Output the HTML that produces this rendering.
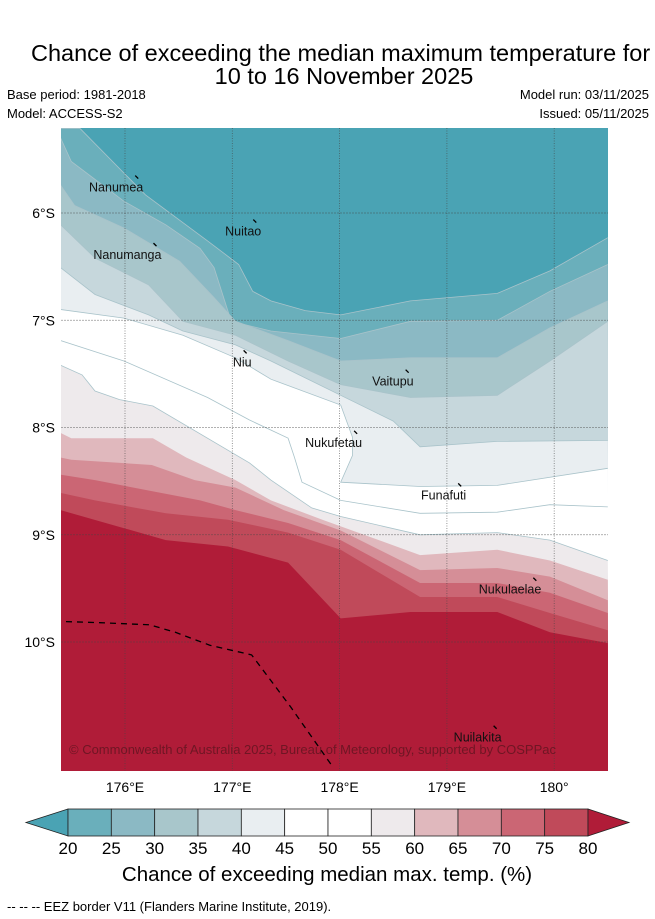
<!DOCTYPE html>
<html><head><meta charset="utf-8">
<style>
html,body{margin:0;padding:0;background:#fff;}
body{width:655px;height:919px;overflow:hidden;position:relative;font-family:"Liberation Sans",sans-serif;}
.t{position:absolute;white-space:nowrap;color:#000;}
</style></head>
<body>
<div class="t" style="left:31px;top:40px;font-size:23.5px;">Chance of exceeding the median maximum temperature for</div>
<div class="t" style="left:0;width:688px;text-align:center;top:63px;font-size:23.5px;">10 to 16 November 2025</div>
<div class="t" style="left:7px;top:87px;font-size:13px;">Base period: 1981-2018</div>
<div class="t" style="left:7px;top:106px;font-size:13px;">Model: ACCESS-S2</div>
<div class="t" style="right:6px;top:87px;font-size:13px;">Model run: 03/11/2025</div>
<div class="t" style="right:6px;top:106px;font-size:13px;">Issued: 05/11/2025</div>
<svg id="map" width="655" height="919" style="position:absolute;left:0;top:0;" xmlns="http://www.w3.org/2000/svg"></svg>
<script>
const levels=[20,25,30,35,40,45,50,55,60,65,70,75,80];
const fillColors=["#6aafbb","#8bb9c4","#a8c6cb","#c6d7dc","#e9eef1","#ffffff","#ffffff","#eeeaec","#e0b8bd","#d58e97","#cb6674","#c04a5a","#b01c38"];
const belowColor="#4aa3b4";
const L20=[[175.4,5.21],[175.58,5.21],[176.19,5.83],[176.77,6.26],[177.06,6.48],[177.19,6.73],[177.36,6.82],[177.68,6.91],[178.01,6.95],[178.66,6.82],[179.47,6.75],[179.96,6.54],[180.5,6.23]];
const L25=[[175.4,5.30],[175.50,5.52],[175.99,5.89],[176.38,6.11],[176.70,6.33],[176.83,6.51],[176.99,7.01],[177.36,7.10],[178.01,7.17],[178.66,7.01],[179.47,7.00],[179.96,6.73],[180.5,6.48]];
const L30=[[175.4,5.74],[175.53,5.93],[175.99,6.14],[176.51,6.45],[176.83,6.79],[177.03,7.01],[177.52,7.19],[178.01,7.38],[178.66,7.35],[179.47,7.35],[179.96,7.07],[180.5,6.82]];
const L35=[[175.4,6.11],[175.72,6.42],[176.22,6.67],[176.54,7.01],[177.03,7.14],[177.52,7.38],[178.01,7.60],[178.66,7.72],[179.47,7.70],[179.96,7.38],[180.5,7.01]];
const L40=[[175.4,6.51],[175.72,6.76],[176.22,6.95],[176.54,7.10],[177.03,7.23],[177.36,7.38],[178.01,7.70],[178.50,7.94],[178.75,8.18],[179.47,8.13],[180.5,8.12]];
const L45=[[175.4,6.90],[175.99,6.98],[176.54,7.14],[177.03,7.35],[177.36,7.55],[178.01,7.79],[178.12,8.09],[178.12,8.26],[178.01,8.51],[178.75,8.55],[179.47,8.54],[180.5,8.38]];
const L50=[[175.4,7.19],[175.99,7.38],[176.77,7.72],[177.16,7.93],[177.52,8.10],[177.58,8.28],[177.65,8.51],[178.01,8.68],[178.75,8.80],[179.47,8.79],[179.96,8.72],[180.5,8.74]];
const L55=[[175.4,7.42],[175.60,7.51],[175.72,7.66],[175.95,7.74],[176.26,7.80],[177.16,8.33],[177.36,8.49],[177.74,8.75],[178.01,8.83],[178.75,9.00],[179.47,8.98],[179.96,9.05],[180.5,9.24]];
const L60=[[175.4,8.05],[175.50,8.10],[176.26,8.10],[176.57,8.28],[177.03,8.49],[177.36,8.68],[177.84,8.86],[178.75,9.19],[179.47,9.14],[179.96,9.24],[180.5,9.42]];
const L65=[[175.4,8.28],[175.50,8.30],[176.25,8.35],[176.65,8.49],[177.03,8.56],[177.48,8.77],[178.01,8.96],[178.75,9.33],[179.47,9.31],[179.96,9.39],[180.5,9.61]];
const L70=[[175.4,8.44],[175.72,8.49],[176.28,8.60],[176.70,8.68],[177.03,8.77],[177.52,8.89],[178.01,9.05],[178.75,9.45],[179.47,9.45],[179.96,9.54],[180.5,9.73]];
const L75=[[175.4,8.61],[175.72,8.68],[176.38,8.80],[176.96,8.86],[177.52,8.98],[178.01,9.14],[178.75,9.58],[179.47,9.58],[179.96,9.73],[180.5,9.89]];
const L80=[[175.4,8.77],[176.38,9.05],[176.96,9.11],[177.52,9.26],[178.01,9.78],[178.66,9.72],[179.47,9.72],[179.96,9.91],[180.5,10.01]];
const contourLines=[L20,L25,L30,L35,L40,L45,L50,L55,L60,L65,L70,L75,L80];
const eezBorder=[[175.45,9.81],[175.77,9.82],[176.23,9.84],[176.47,9.91],[176.79,10.03],[177.18,10.12],[177.54,10.60],[177.94,11.17]];
const lonTicks=[176,177,178,179,180];
const lonLabels=["176°E","177°E","178°E","179°E","180°"];
const latTicks=[6,7,8,9,10];
const latLabels=["6°S","7°S","8°S","9°S","10°S"];
const islandNames=["Nanumea","Nuitao","Nanumanga","Niu","Vaitupu","Nukufetau","Funafuti","Nukulaelae","Nuilakita"];
const islandLon=[176.17,177.27,176.34,177.18,178.69,178.21,179.18,179.88,179.51];
const islandLat=[5.80,6.21,6.43,7.43,7.61,8.18,8.67,9.55,10.93];
const cbTicks=[20,25,30,35,40,45,50,55,60,65,70,75,80];

const NS="http://www.w3.org/2000/svg";
const svg=document.getElementById('map');
const X0=61,X1=608,Y0=128,Y1=771;
const xs=lon=>125+(lon-176)*107.3;
const ys=lat=>213+(lat-6)*107.25;
function mk(tag,attrs,parent){const e=document.createElementNS(NS,tag);for(const k in attrs)e.setAttribute(k,attrs[k]);(parent||svg).appendChild(e);return e;}
const defs=mk('defs',{});
const cp=mk('clipPath',{id:'clip'},defs);
mk('rect',{x:X0,y:Y0,width:X1-X0,height:Y1-Y0},cp);
const g=mk('g',{'clip-path':'url(#clip)'});


const bg=mk('rect',{x:X0,y:Y0,width:X1-X0,height:Y1-Y0,fill:belowColor},g);


contourLines.forEach((line,i)=>{
  const pts=line.map(p=>xs(p[0]).toFixed(1)+','+ys(p[1]).toFixed(1));
  const poly=mk('polygon',{points:pts.join(' ')+' '+(X1+2)+','+(Y1+2)+' '+(X0-2)+','+(Y1+2),fill:fillColors[i]},g);
  
  
  const pl=mk('polyline',{points:pts.join(' '),fill:'none',stroke:levels[i]<=55?'#a9c3ca':'none','stroke-width':0.8},g);
  
  
});
lonTicks.forEach((lon,i)=>{
  const l=mk('line',{x1:xs(lon),x2:xs(lon),y1:Y0,y2:Y1,stroke:'#444','stroke-width':0.8,'stroke-dasharray':'1,1.5',opacity:0.7},g);
  
  
  const t=mk('text',{x:xs(lon),y:792,'text-anchor':'middle','font-size':14,'font-family':'Liberation Sans, sans-serif'});
  t.textContent=lonLabels[i];
  
  
});
latTicks.forEach((lat,i)=>{
  const l=mk('line',{x1:X0,x2:X1,y1:ys(lat),y2:ys(lat),stroke:'#444','stroke-width':0.8,'stroke-dasharray':'2,1',opacity:0.55},g);
  
  
  const t=mk('text',{x:55,y:ys(lat)+5,'text-anchor':'end','font-size':14,'font-family':'Liberation Sans, sans-serif'});
  t.textContent=latLabels[i];
  
  
});
const eez=mk('polyline',{points:eezBorder.map(p=>xs(p[0]).toFixed(1)+','+ys(p[1]).toFixed(1)).join(' '),fill:'none',stroke:'#000','stroke-width':1.3,'stroke-dasharray':'6,5'},g);


islandNames.forEach((n,i)=>{
  const t=mk('text',{x:xs(islandLon[i]),y:ys(islandLat[i]),'text-anchor':'end','font-size':12.5,'font-family':'Liberation Sans, sans-serif',fill:'#111'},g);
  t.textContent=n;
  
  
  const m=mk('line',{x1:xs(islandLon[i])-8,y1:ys(islandLat[i])-16,x2:xs(islandLon[i])-5,y2:ys(islandLat[i])-13,stroke:'#000','stroke-width':1.3},g);
  
  
});
const cr=mk('text',{x:69,y:754,'font-size':13,'font-family':'Liberation Sans, sans-serif',fill:'rgba(90,20,30,0.75)'},g);
cr.textContent='© Commonwealth of Australia 2025, Bureau of Meteorology, supported by COSPPac';



// colorbar
const CB0=68,CB1=588,CBY0=809,CBY1=836;
const cbx=v=>CB0+(v-20)/60*(CB1-CB0);
const lt=mk('polygon',{points:`${CB0},${CBY0} 26,${(CBY0+CBY1)/2} ${CB0},${CBY1}`,fill:belowColor,stroke:'#222','stroke-width':0.8});


for(let i=0;i<12;i++){
  const r=mk('rect',{x:cbx(cbTicks[i]),y:CBY0,width:cbx(cbTicks[i+1])-cbx(cbTicks[i]),height:CBY1-CBY0,fill:fillColors[i],stroke:'#222','stroke-width':0.8});
  
  
}
const rt=mk('polygon',{points:`${CB1},${CBY0} 629,${(CBY0+CBY1)/2} ${CB1},${CBY1}`,fill:fillColors[12],stroke:'#222','stroke-width':0.8});


cbTicks.forEach(v=>{
  const t=mk('text',{x:cbx(v),y:854,'text-anchor':'middle','font-size':17,'font-family':'Liberation Sans, sans-serif'});
  t.textContent=v;
  
  
});
const cbl=mk('text',{x:327,y:881,'text-anchor':'middle','font-size':20.5,'font-family':'Liberation Sans, sans-serif'});
cbl.textContent='Chance of exceeding median max. temp. (%)';


const ft=mk('text',{x:7,y:911,'font-size':13,'font-family':'Liberation Sans, sans-serif'});
ft.textContent='--  --  -- EEZ border V11 (Flanders Marine Institute, 2019).';


</script>
</body></html>
